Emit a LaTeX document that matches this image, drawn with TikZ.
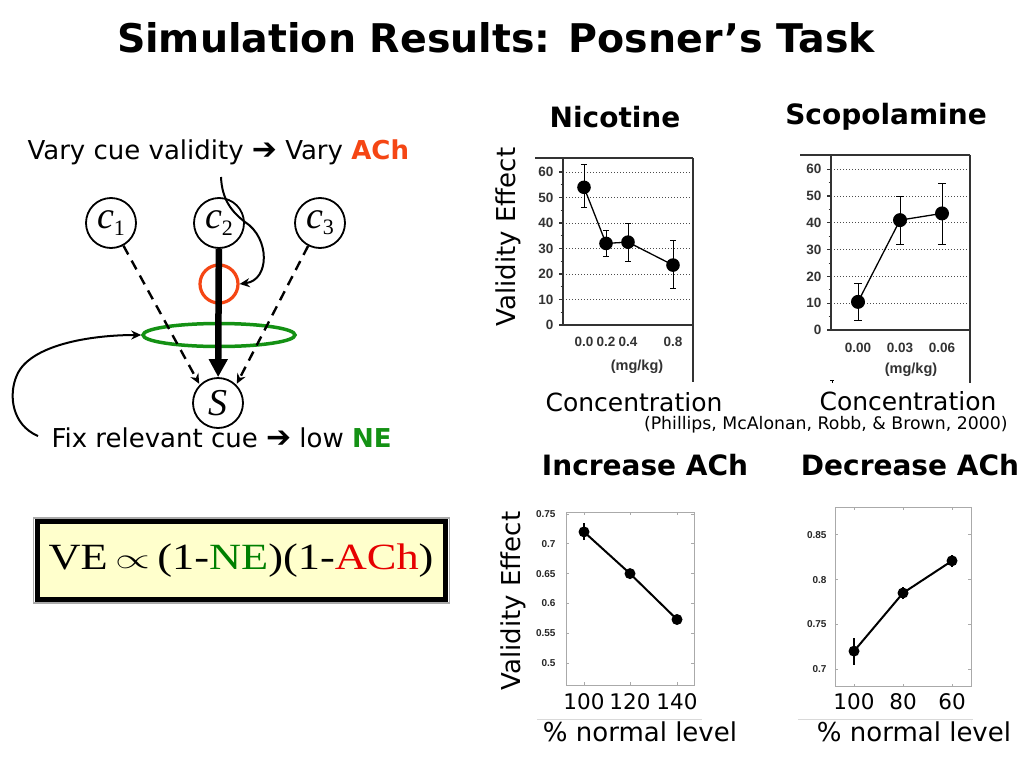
\documentclass[tikz,border=0pt]{standalone}
\usepackage{fontspec}
\usepackage{graphicx}
\setmainfont{DejaVu Sans}
\newfontfamily\timesf{Liberation Serif}
\newfontfamily\arialf{Liberation Sans}
\usetikzlibrary{arrows.meta,shapes.geometric}
\definecolor{achred}{RGB}{245,70,20}
\definecolor{negreen}{RGB}{20,145,20}
\definecolor{fred}{RGB}{230,0,0}
\definecolor{fgreen}{RGB}{0,128,0}
\definecolor{boxyellow}{RGB}{255,255,204}
\definecolor{frgrey}{RGB}{170,170,170}
\tikzset{
  var/.style={circle,draw,line width=1.8pt,minimum size=50pt,inner sep=0pt},
  dasharrow/.style={line width=2.4pt,dash pattern=on 10pt off 7pt,-{Stealth[length=10pt,width=9pt]},shorten >=1pt},
  bigarrow/.style={line width=6.5pt,-{Triangle[length=18pt,width=18pt]}},
  curvarrow/.style={line width=2pt,-{Stealth[length=10pt,width=9pt]}},
  ttl/.style={font=\fontsize{39.5}{44}\selectfont\bfseries},
  hd/.style={font=\fontsize{28}{32}\selectfont\bfseries},
  lbl/.style={font=\fontsize{25}{29}\selectfont},
  tk/.style={font=\arialf\fontsize{13.5}{15}\selectfont\bfseries,text=black!80},
  stk/.style={font=\arialf\fontsize{10}{12}\selectfont\bfseries,text=black!85},
  mgk/.style={font=\arialf\fontsize{14.5}{16}\selectfont\bfseries,text=black!80},
  xt/.style={font=\fontsize{21.5}{24}\selectfont},
  dot/.style={fill=black,draw=none},
  grid/.style={line width=1pt,dotted,black!70},
  frm/.style={line width=1pt,frgrey},
  ax/.style={line width=1.2pt,black!80},
}
\newcommand{\harr}{{\bfseries\scalebox{1.15}{➔}}}
\begin{document}
\begin{tikzpicture}[x=1pt,y=-1pt]
\useasboundingbox (0,0) rectangle (1024,768);
\fill[white] (0,0) rectangle (1024,768);

% title
\node[ttl] (title) at (496,38) {Simulation Results: Posner’s Task};

% ===== left diagram =====
\node[font=\fontsize{26}{30}\selectfont,anchor=west] (vary) at (24,152) {Vary cue validity \harr{} Vary \textcolor{achred}{\bfseries ACh}};
\node[font=\fontsize{26}{30}\selectfont,anchor=west] (fix) at (48,438) {Fix relevant cue \harr{} low \textcolor{negreen}{\bfseries NE}};

\node[var] (c1) at (111,223) {\timesf\fontsize{38}{38}\selectfont\itshape c\raisebox{-0.35ex}{\upshape\fontsize{22}{22}\selectfont 1}};
\node[var] (c2) at (219,223) {\timesf\fontsize{38}{38}\selectfont\itshape c\raisebox{-0.35ex}{\upshape\fontsize{22}{22}\selectfont 2}};
\node[var] (c3) at (320,223) {\timesf\fontsize{38}{38}\selectfont\itshape c\raisebox{-0.35ex}{\upshape\fontsize{22}{22}\selectfont 3}};
\node[var] (S) at (218,403) {\timesf\fontsize{38}{38}\selectfont\itshape S};

\node[circle,draw=achred,line width=3.2pt,minimum size=38pt,inner sep=0pt] (ach) at (219,284) {};
\node[ellipse,draw=negreen,line width=3.5pt,minimum width=152pt,minimum height=23pt,inner sep=0pt] (ne) at (219,335) {};

\draw[bigarrow] (c2) -- (S);
\draw[dasharrow] (c1) -- (S.north west);
\draw[dasharrow] (c3) -- (S.north east);

\coordinate (vtop) at (221,177);
\draw[curvarrow] (vtop) .. controls (222,200) and (232,212) .. (245,222)
   .. controls (270,238) and (270,280) .. (ach.east);
\coordinate (fstart) at (38,436);
\draw[curvarrow] (fstart) .. controls (12,425) and (8,395) .. (17,375)
   .. controls (30,345) and (90,335) .. (ne.west);

% formula box
\draw[frgrey,line width=1.5pt] (33.5,518) rectangle (449.5,603);
\draw[fill=boxyellow,line width=5pt] (37.5,521.5) rectangle (445.5,599.5);
\node[font=\timesf\fontsize{37}{40}\selectfont] (formula) at (241,561)
  {\scalebox{1.2}[1]{VE\,\raisebox{0.05em}{\scalebox{1.5}[1.15]{$\propto$}}\,(1-\textcolor{fgreen}{NE})(1-\textcolor{fred}{ACh})}};

% ===== headings =====
\node[hd] (h1) at (615,117) {Nicotine};
\node[hd] (h2) at (886,117) {Scopolamine};
\node[hd] (h3) at (645,465) {Increase ACh};
\node[hd] (h4) at (910,465) {Decrease ACh};

% ===== chart 1 : Nicotine =====
\begin{scope}[shift={(563,325)},y=2.55pt]
  \foreach \v in {10,20,...,60} \draw[grid] (0,\v) -- (130,\v);
  \draw[ax] (-28,65.5) -- (130,65.5);
  \draw[ax] (130,65.5) -- (130,-22.5);
  \draw[ax] (0,65.5) -- (0,0) -- (130,0);
  \foreach \v in {0,10,...,60} {\draw[ax] (-4,\v) -- (0,\v); \node[tk,anchor=east] at (-6,\v) {\v};}
  \foreach \v in {5,15,...,55} \draw[ax,line width=0.8pt] (-2.5,\v) -- (0,\v);
  \draw[line width=0.9pt] (21,46) -- (21,63) (18,46) -- (24,46) (18,63) -- (24,63);
  \draw[line width=0.9pt] (43,27) -- (43,37) (40,27) -- (46,27) (40,37) -- (46,37);
  \draw[line width=0.9pt] (65,25) -- (65,40) (62,25) -- (68,25) (62,40) -- (68,40);
  \draw[line width=0.9pt] (110,14.5) -- (110,33) (107,14.5) -- (113,14.5) (107,33) -- (113,33);
  \draw[line width=1.3pt] (21,54) -- (43,32) -- (65,32.5) -- (110,23.5);
  \foreach \x/\v in {21/54,43/32,65/32.5,110/23.5} \fill[dot] (\x,\v) circle (6.8pt);
  \node[tk,inner sep=0pt] at (21,-6.8) {0.0};
  \node[tk,inner sep=0pt] at (43,-6.8) {0.2};
  \node[tk,inner sep=0pt] at (65,-6.8) {0.4};
  \node[tk,inner sep=0pt] at (110,-6.8) {0.8};
  \node[mgk] at (74,-16.5) {(mg/kg)};
\end{scope}
\node[lbl,font=\fontsize{26}{30}\selectfont,rotate=90] (ve1) at (508,237) {Validity Effect};
\node[lbl] (conc1) at (634,402) {Concentration};

% ===== chart 2 : Scopolamine =====
\begin{scope}[shift={(831,330)},y=2.68pt]
  \foreach \v in {10,20,...,60} \draw[grid] (0,\v) -- (139,\v);
  \draw[ax] (-31,65.3) -- (139,65.3);
  \draw[ax] (139,65.3) -- (139,-19.8);
  \draw[ax] (0,65.3) -- (0,0) -- (139,0);
  \foreach \v in {0,10,...,60} {\draw[ax] (-4,\v) -- (0,\v); \node[tk,anchor=east] at (-6,\v) {\v};}
  \foreach \v in {5,15,...,55} \draw[ax,line width=0.8pt] (-2.5,\v) -- (0,\v);
  \draw[line width=0.9pt] (27,3.5) -- (27,17.5) (23,3.5) -- (31,3.5) (23,17.5) -- (31,17.5);
  \draw[line width=0.9pt] (69,32) -- (69,50) (65,32) -- (73,32) (65,50) -- (73,50);
  \draw[line width=0.9pt] (111,32) -- (111,54.5) (107,32) -- (115,32) (107,54.5) -- (115,54.5);
  \draw[line width=1.3pt] (27,10.5) -- (69,41) -- (111,43.5);
  \foreach \x/\v in {27/10.5,69/41,111/43.5} \fill[dot] (\x,\v) circle (7pt);
  \node[tk] at (27,-6.8) {0.00};
  \node[tk] at (69,-6.8) {0.03};
  \node[tk] at (111,-6.8) {0.06};
  \node[mgk] at (80,-15) {(mg/kg)};
  \draw[line width=1pt] (-1,-18.7) -- (3,-18.7) (1,-18.7) -- (1,-19.8);
\end{scope}
\node[lbl] (conc2) at (908,401) {Concentration};
\node[font=\fontsize{17.3}{20}\selectfont,anchor=east] (cite) at (1011,425) {(Phillips, McAlonan, Robb, \& Brown, 2000)};

% ===== chart 3 : Increase ACh =====
\begin{scope}[shift={(566,663)},y=596pt]
  \draw[frm] (0,-0.037) rectangle (128,0.2525);
  \foreach \v in {0.5,0.55,0.6,0.65,0.7,0.75} {\draw[frm] (0,\v-0.5) -- (3,\v-0.5) (128,\v-0.5) -- (125,\v-0.5);}
  \foreach \x in {18,64,111} {\draw[frm] (\x,-0.037) -- (\x,-0.032) (\x,0.2525) -- (\x,0.2475);}
  \foreach \v/\t in {0.5/0.5,0.55/0.55,0.6/0.6,0.65/0.65,0.7/0.7,0.75/0.75}
     \node[stk,anchor=east] at (-7,\v-0.5) {\t};
  \draw[line width=1.8pt] (18,0.206) -- (18,0.235);
  \draw[line width=1.2pt] (64,0.146) -- (64,0.154) (111,0.069) -- (111,0.077);
  \draw[line width=2pt] (18,0.22) -- (64,0.15) -- (111,0.073);
  \foreach \x/\v in {18/0.22,64/0.15,111/0.073} \fill[dot] (\x,\v) circle (5.5pt);
\end{scope}
\node[xt] at (584,702) {100};
\node[xt] at (630,702) {120};
\node[xt] at (677,702) {140};
\draw[black!15,line width=0.8pt] (537,719) -- (702,719);
\node[lbl,font=\fontsize{26}{30}\selectfont,rotate=90] (ve2) at (513,601) {Validity Effect};
\node[font=\fontsize{26}{30}\selectfont] (pn1) at (640,732) {\% normal level};

% ===== chart 4 : Decrease ACh =====
\begin{scope}[shift={(835,669)},y=894pt]
  \draw[frm] (0,-0.02) rectangle (136,0.181);
  \foreach \v in {0.7,0.75,0.8,0.85} {\draw[frm] (0,\v-0.7) -- (3,\v-0.7) (136,\v-0.7) -- (133,\v-0.7);}
  \foreach \x in {19,68,117} {\draw[frm] (\x,-0.02) -- (\x,-0.0165) (\x,0.181) -- (\x,0.1775);}
  \foreach \v/\t in {0.7/0.7,0.75/0.75,0.8/0.8,0.85/0.85}
     \node[stk,anchor=east] at (-5,\v-0.7) {\t};
  \draw[line width=1.8pt] (19,0.005) -- (19,0.035);
  \draw[line width=1.5pt] (68,0.078) -- (68,0.092) (117,0.114) -- (117,0.128);
  \draw[line width=2pt] (19,0.02) -- (68,0.085) -- (117,0.121);
  \foreach \x/\v in {19/0.02,68/0.085,117/0.121} \fill[dot] (\x,\v) circle (5.5pt);
\end{scope}
\node[xt] at (854,702) {100};
\node[xt] at (903,702) {80};
\node[xt] at (952,702) {60};
\draw[black!15,line width=0.8pt] (798,719) -- (973,719);
\node[font=\fontsize{26}{30}\selectfont] (pn2) at (914,732) {\% normal level};
\end{tikzpicture}
\end{document}
